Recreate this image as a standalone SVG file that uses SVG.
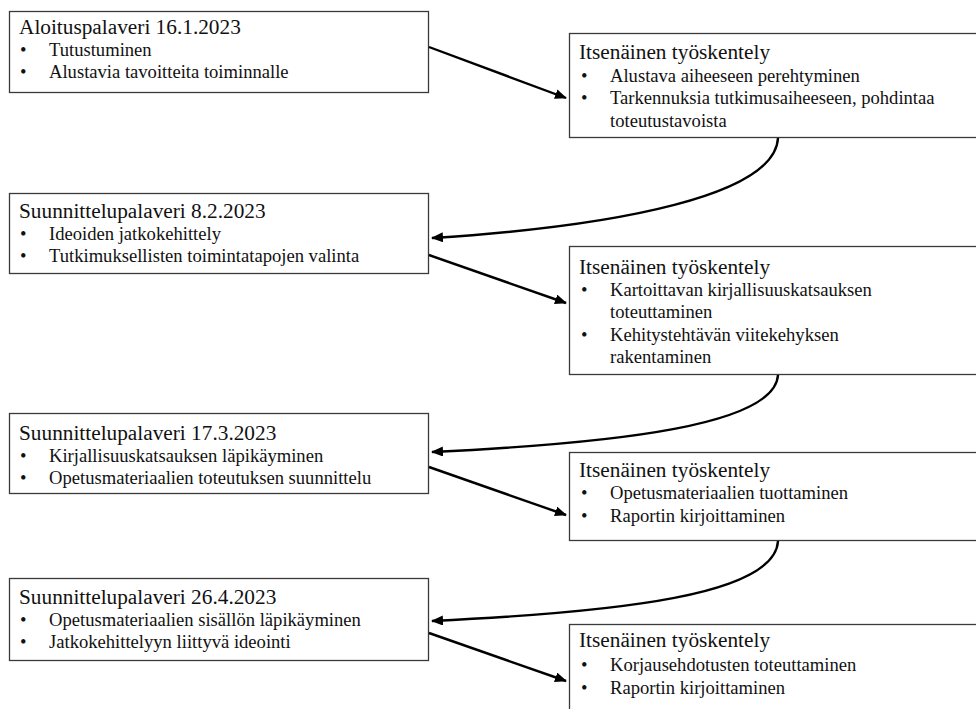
<svg xmlns="http://www.w3.org/2000/svg" width="976" height="709" viewBox="0 0 976 709">
  <style>
    .box { fill: #ffffff; stroke: #3a3a3a; stroke-width: 1.3; }
    text { font-family: 'Liberation Serif', Tinos, 'Times New Roman', Times, 'DejaVu Serif', serif; fill: #111; }
    .title { font-size: 21.3px; }
    .item { font-size: 18.6px; }
    .link { fill: none; stroke: #000; stroke-width: 2.4; marker-end: url(#head); }
  </style>
  <defs>
    <marker id="head" markerUnits="userSpaceOnUse" markerWidth="12" markerHeight="10" refX="11" refY="5" orient="auto">
      <path d="M0,0 L12,5 L0,10 Z" fill="#000"/>
    </marker>
  </defs>
  <rect width="976" height="709" fill="#ffffff"/>

  <!-- meetings (left column) -->
  <g id="meeting-1">
    <rect class="box" x="9.5" y="11.5" width="419" height="81"/>
    <text class="title" x="19" y="34">Aloituspalaveri 16.1.2023</text>
    <text class="item" x="20" y="56">•</text><text class="item" x="49" y="56">Tutustuminen</text>
    <text class="item" x="20" y="78">•</text><text class="item" x="49" y="78">Alustavia tavoitteita toiminnalle</text>
  </g>

  <g id="meeting-2">
    <rect class="box" x="9.5" y="193.5" width="419" height="80"/>
    <text class="title" x="19" y="218">Suunnittelupalaveri 8.2.2023</text>
    <text class="item" x="20" y="240">•</text><text class="item" x="49" y="240">Ideoiden jatkokehittely</text>
    <text class="item" x="20" y="262">•</text><text class="item" x="49" y="262">Tutkimuksellisten toimintatapojen valinta</text>
  </g>

  <g id="meeting-3">
    <rect class="box" x="9.5" y="413.5" width="419" height="80"/>
    <text class="title" x="19" y="440">Suunnittelupalaveri 17.3.2023</text>
    <text class="item" x="20" y="462">•</text><text class="item" x="49" y="462">Kirjallisuuskatsauksen läpikäyminen</text>
    <text class="item" x="20" y="484">•</text><text class="item" x="49" y="484">Opetusmateriaalien toteutuksen suunnittelu</text>
  </g>

  <g id="meeting-4">
    <rect class="box" x="9.5" y="578.5" width="419" height="82"/>
    <text class="title" x="19" y="604">Suunnittelupalaveri 26.4.2023</text>
    <text class="item" x="20" y="626">•</text><text class="item" x="49" y="626">Opetusmateriaalien sisällön läpikäyminen</text>
    <text class="item" x="20" y="648">•</text><text class="item" x="49" y="648">Jatkokehittelyyn liittyvä ideointi</text>
  </g>

  <!-- independent work (right column) -->
  <g id="work-1">
    <rect class="box" x="569.5" y="33.5" width="420" height="104"/>
    <text class="title" x="579" y="59">Itsenäinen työskentely</text>
    <text class="item" x="581" y="82">•</text><text class="item" x="610" y="82">Alustava aiheeseen perehtyminen</text>
    <text class="item" x="581" y="104">•</text><text class="item" x="610" y="104">Tarkennuksia tutkimusaiheeseen, pohdintaa</text>
    <text class="item" x="610" y="127">toteutustavoista</text>
  </g>

  <g id="work-2">
    <rect class="box" x="569.5" y="246.5" width="420" height="128"/>
    <text class="title" x="579" y="274">Itsenäinen työskentely</text>
    <text class="item" x="581" y="296">•</text><text class="item" x="610" y="296">Kartoittavan kirjallisuuskatsauksen</text>
    <text class="item" x="610" y="318">toteuttaminen</text>
    <text class="item" x="581" y="341">•</text><text class="item" x="610" y="341">Kehitystehtävän viitekehyksen</text>
    <text class="item" x="610" y="363">rakentaminen</text>
  </g>

  <g id="work-3">
    <rect class="box" x="569.5" y="452.5" width="420" height="88"/>
    <text class="title" x="579" y="477">Itsenäinen työskentely</text>
    <text class="item" x="581" y="499">•</text><text class="item" x="610" y="499">Opetusmateriaalien tuottaminen</text>
    <text class="item" x="581" y="522">•</text><text class="item" x="610" y="522">Raportin kirjoittaminen</text>
  </g>

  <g id="work-4">
    <rect class="box" x="569.5" y="624.5" width="420" height="100"/>
    <text class="title" x="579" y="647">Itsenäinen työskentely</text>
    <text class="item" x="581" y="671">•</text><text class="item" x="610" y="671">Korjausehdotusten toteuttaminen</text>
    <text class="item" x="581" y="694">•</text><text class="item" x="610" y="694">Raportin kirjoittaminen</text>
  </g>

  <!-- connectors -->
  <g id="connectors">
    <path class="link" d="M429,47 L566,98"/>
    <path class="link" d="M778,138 C775,195 620,226 432,238"/>
    <path class="link" d="M429,255 L566,303"/>
    <path class="link" d="M778,375 C775,425 620,443 432,452"/>
    <path class="link" d="M429,467 L566,515"/>
    <path class="link" d="M778,541 C775,595 620,612 432,621"/>
    <path class="link" d="M429,633 L566,681"/>
  </g>
</svg>
